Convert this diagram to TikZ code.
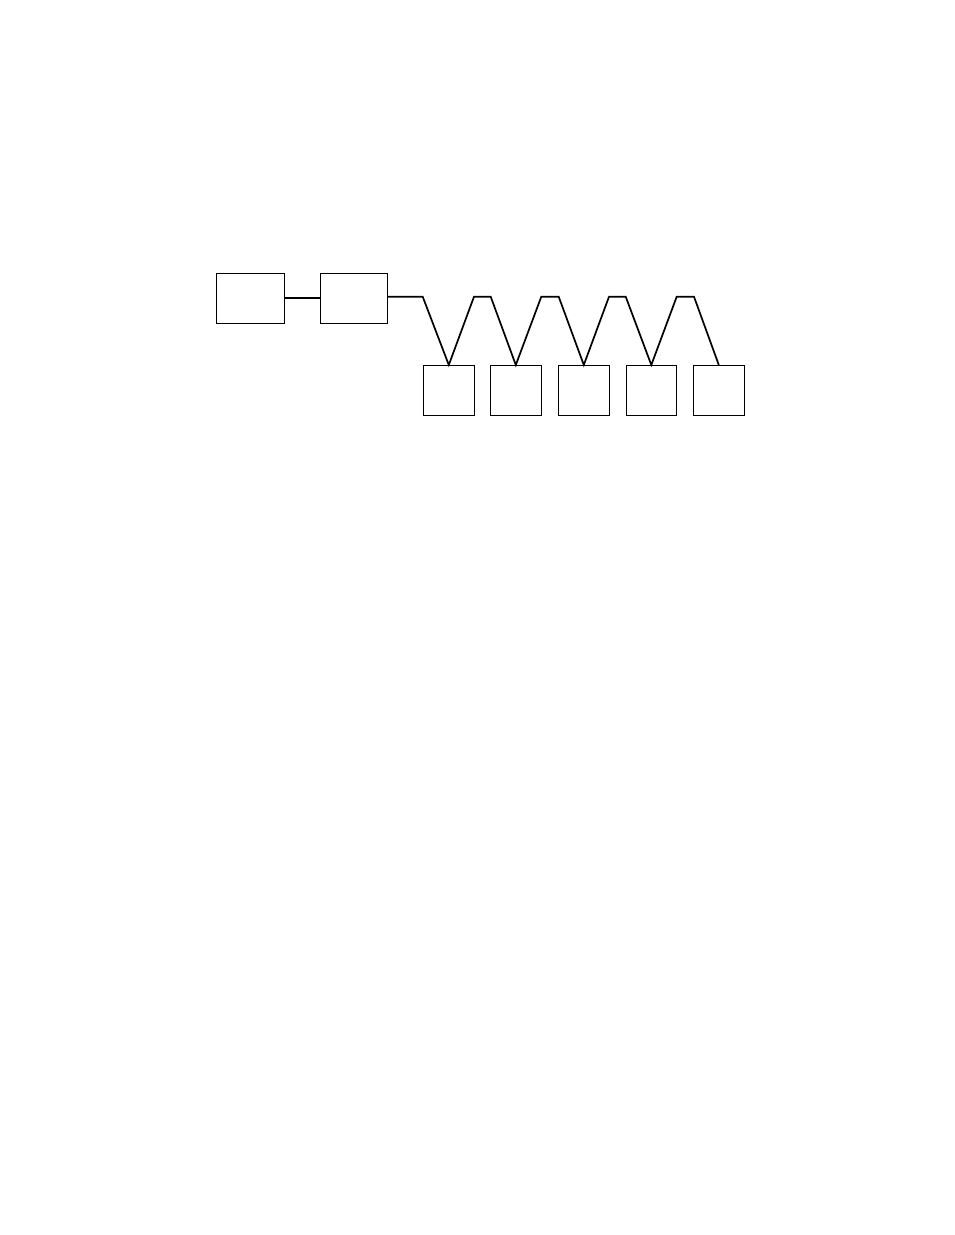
\documentclass[tikz,border=0pt]{standalone}
\begin{document}
\begin{tikzpicture}[x=1pt,y=-1pt,
  blk/.style={draw,line width=1pt,inner sep=0pt,minimum width=#1,minimum height=50.5pt},
  blk/.default=51pt,
  wire/.style={line width=1.7pt,line join=miter}]
\useasboundingbox (0,0) rectangle (954,1235);
\node[blk=68pt] (b1) at (250.3,298.3) {};
\node[blk=67pt] (b2) at (353.8,298.5) {};
\node[blk] (c1) at (448.8,390.7) {};
\node[blk] (c2) at (515.8,390.7) {};
\node[blk] (c3) at (583.8,390.7) {};
\node[blk,minimum width=50pt] (c4) at (651.3,390.7) {};
\node[blk] (c5) at (718.8,390.7) {};
\coordinate (k0) at (422.7,296.7);
\coordinate (p1a) at (474,296.7);
\coordinate (p1b) at (490.7,296.7);
\coordinate (p2a) at (541.3,296.7);
\coordinate (p2b) at (558.7,296.7);
\coordinate (p3a) at (609,296.7);
\coordinate (p3b) at (625.7,296.7);
\coordinate (p4a) at (676.7,296.7);
\coordinate (p4b) at (694,296.7);
\draw[wire] (b1.east |- 0,298) -- (b2.west |- 0,298);
\draw[wire] (b2.east |- k0) -- (k0) -- (c1.north) -- (p1a) -- (p1b) -- (c2.north) -- (p2a) -- (p2b) -- (c3.north) -- (p3a) -- (p3b) -- (c4.north) -- (p4a) -- (p4b) -- (c5.north);
\end{tikzpicture}
\end{document}
